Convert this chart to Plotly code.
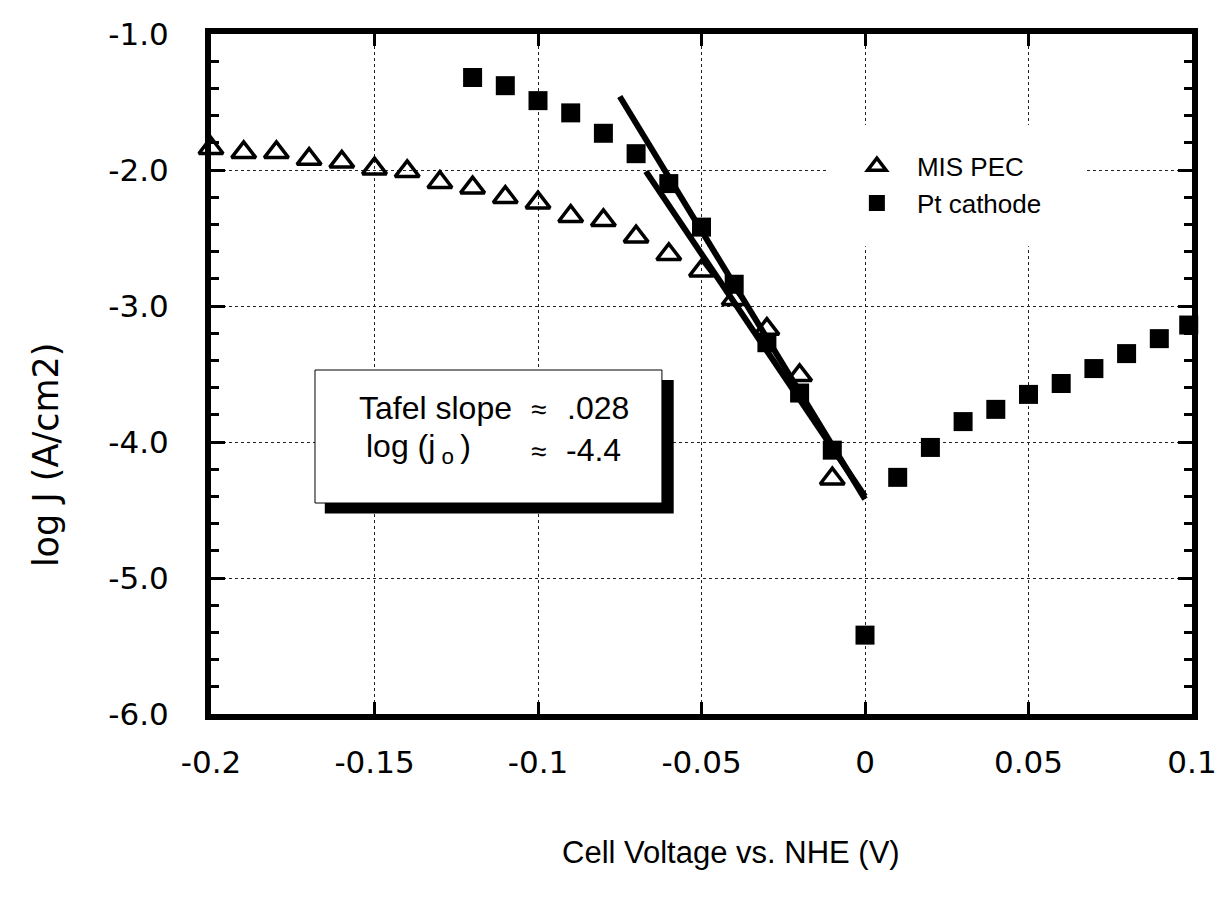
import plotly.graph_objects as go

# ---------------- data ----------------
mis_x = [-0.20, -0.19, -0.18, -0.17, -0.16, -0.15, -0.14, -0.13, -0.12, -0.11,
         -0.10, -0.09, -0.08, -0.07, -0.06, -0.05, -0.04, -0.03, -0.02, -0.01]
mis_y = [-1.84, -1.87, -1.87, -1.92, -1.94, -1.99, -2.01, -2.09, -2.13, -2.20,
         -2.24, -2.34, -2.37, -2.49, -2.62, -2.74, -2.95, -3.17, -3.51, -4.27]

pt_x = [-0.12, -0.11, -0.10, -0.09, -0.08, -0.07, -0.06, -0.05, -0.04, -0.03,
        -0.02, -0.01, 0.00, 0.01, 0.02, 0.03, 0.04, 0.05, 0.06, 0.07, 0.08, 0.09, 0.099]
pt_y = [-1.32, -1.38, -1.49, -1.58, -1.73, -1.88, -2.10, -2.42, -2.84, -3.27,
        -3.64, -4.06, -5.42, -4.26, -4.04, -3.85, -3.76, -3.65, -3.57, -3.46, -3.35, -3.24, -3.14]

fit_pt_x = [-0.075, 0.0]
fit_pt_y = [-1.46, -4.42]
fit_mis_x = [-0.067, 0.0]
fit_mis_y = [-2.01, -4.40]

x_tickvals = [-0.2, -0.15, -0.1, -0.05, 0.0, 0.05, 0.1]
x_ticktext = ["-0.2", "-0.15", "-0.1", "-0.05", "0", "0.05", "0.1"]
y_tickvals = [-1, -2, -3, -4, -5, -6]
y_ticktext = ["-1.0", "-2.0", "-3.0", "-4.0", "-5.0", "-6.0"]

# ---------------- figure ----------------
fig = go.Figure()

fig.add_trace(go.Scatter(x=fit_pt_x, y=fit_pt_y, mode="lines",
                         line=dict(color="black", width=6), showlegend=False,
                         hoverinfo="skip"))
fig.add_trace(go.Scatter(x=fit_mis_x, y=fit_mis_y, mode="lines",
                         line=dict(color="black", width=6), showlegend=False,
                         hoverinfo="skip"))

fig.add_trace(go.Scatter(x=mis_x, y=mis_y, mode="markers", name="MIS PEC",
                         marker=dict(symbol="triangle-up-open", size=21,
                                     color="black", line=dict(width=3.5, color="black")),
                         cliponaxis=False))
fig.add_trace(go.Scatter(x=pt_x, y=pt_y, mode="markers", name="Pt cathode",
                         marker=dict(symbol="square", size=19, color="black",
                                     line=dict(width=0)),
                         cliponaxis=False))

TICKFONT = dict(family="DejaVu Sans", size=31, color="black")
HELV = "Liberation Sans, Arial, Helvetica, sans-serif"

fig.update_xaxes(range=[-0.2, 0.1], tickvals=x_tickvals, ticktext=x_ticktext,
                 showline=True, linewidth=6, linecolor="black", mirror="allticks",
                 ticks="inside", ticklen=12, tickwidth=3, tickcolor="black",
                 showgrid=True, gridcolor="#222", gridwidth=1, griddash="dot",
                 zeroline=False, tickfont=TICKFONT, ticklabelstandoff=16)
fig.update_yaxes(range=[-6, -1], tickvals=y_tickvals, ticktext=y_ticktext,
                 showline=True, linewidth=6, linecolor="black", mirror="allticks",
                 ticks="inside", ticklen=14, tickwidth=3, tickcolor="black",
                 minor=dict(dtick=0.2, ticks="inside", ticklen=8, tickwidth=3,
                            tickcolor="black", showgrid=False),
                 showgrid=True, gridcolor="#222", gridwidth=1, griddash="dot",
                 zeroline=False, tickfont=TICKFONT, ticklabelstandoff=30)

# text box with drop shadow
fig.add_shape(type="rect", xref="x", yref="y", x0=-0.1652, x1=-0.0585,
              y0=-3.544, y1=-4.525, fillcolor="black", line=dict(width=0),
              layer="above")
fig.add_shape(type="rect", xref="x", yref="y", x0=-0.1682, x1=-0.0621,
              y0=-3.4706, y1=-4.4485, fillcolor="white",
              line=dict(color="black", width=1), layer="above")
# blank area behind legend
fig.add_shape(type="rect", xref="x", yref="y", x0=-0.011, x1=0.0676,
              y0=-1.67, y1=-2.56, fillcolor="white", line=dict(width=0),
              layer="above")

BOXFONT = dict(family=HELV, size=32, color="black")
fig.add_annotation(x=-0.1555, y=-3.75, xref="x", yref="y", text="Tafel slope",
                   showarrow=False, xanchor="left", yanchor="middle", font=BOXFONT)
fig.add_annotation(x=-0.1, y=-3.76, xref="x", yref="y", text="≈",
                   showarrow=False, xanchor="center", yanchor="middle",
                   font=dict(family=HELV, size=28, color="black"))
fig.add_annotation(x=-0.0918, y=-3.75, xref="x", yref="y", text=".028",
                   showarrow=False, xanchor="left", yanchor="middle", font=BOXFONT)
fig.add_annotation(x=-0.1533, y=-4.05, xref="x", yref="y",
                   text="log (j<sub> o </sub>)",
                   showarrow=False, xanchor="left", yanchor="middle", font=BOXFONT)
fig.add_annotation(x=-0.0997, y=-4.07, xref="x", yref="y", text="≈",
                   showarrow=False, xanchor="center", yanchor="middle",
                   font=dict(family=HELV, size=28, color="black"))
fig.add_annotation(x=-0.0921, y=-4.06, xref="x", yref="y", text="-4.4",
                   showarrow=False, xanchor="left", yanchor="middle", font=BOXFONT)

# axis titles
fig.add_annotation(x=0.530, y=-0.204, xref="paper", yref="paper",
                   text="Cell Voltage vs. NHE (V)", showarrow=False,
                   xanchor="center", yanchor="middle",
                   font=dict(family=HELV, size=31, color="black"))
fig.add_annotation(x=-0.168, y=0.381, xref="paper", yref="paper",
                   text="log J (A/cm2)", showarrow=False, textangle=-90,
                   xanchor="center", yanchor="middle",
                   font=dict(family="DejaVu Sans", size=35, color="black"))

fig.update_layout(
    width=1229, height=898,
    margin=dict(l=211, r=28, t=34, b=184),
    paper_bgcolor="white", plot_bgcolor="white",
    showlegend=True,
    legend=dict(x=0.638, y=0.84, xanchor="left", yanchor="top",
                bgcolor="rgba(0,0,0,0)", borderwidth=0,
                font=dict(family=HELV, size=26, color="black"),
                itemwidth=70, tracegroupgap=4),
)

fig.write_html("out.html")
